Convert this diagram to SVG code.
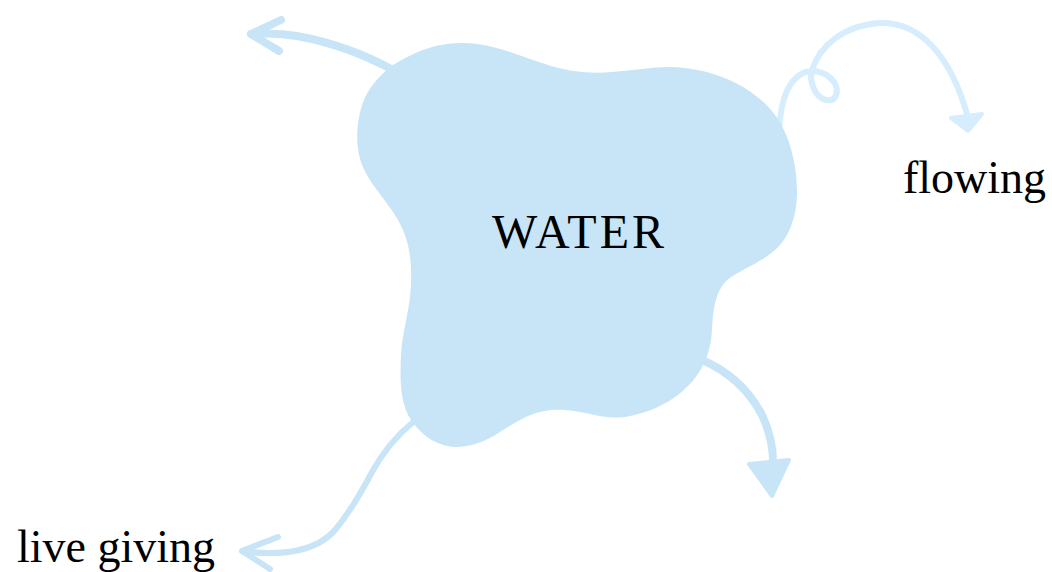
<svg xmlns="http://www.w3.org/2000/svg" width="1052" height="572" viewBox="0 0 1052 572">
<style>
.lbl{font-family:"Liberation Serif","Times New Roman",serif;fill:#000}
.arr{fill:none;stroke:#c8e5f7;stroke-linecap:round;stroke-linejoin:round}
.head{fill:#c8e5f7;stroke:#c8e5f7;stroke-linejoin:round;stroke-width:4}
</style>
<rect width="1052" height="572" fill="#fff"/>
<g id="connectors">
<path class="arr" stroke-width="8" d="M393,70 C360,52 330,42 297,36 C280,33 265,33 251,34"/>
<path class="arr" stroke-width="8" d="M281,20 L251,34 L279,51"/>
<path class="arr" stroke-width="6" style="stroke:#d5edfc" d="M779,132 C780,110 784,88 797,77 C808,67 825,70 834,82 C840,92 836,102 826,100 C814,97 809,80 812,70 C820,45 845,25 880,23 C920,22 950,55 967,114"/>
<path class="head" style="fill:#d5edfc;stroke:#d5edfc" d="M951,118 L982,114 L968,131 Z"/>
<path class="arr" stroke-width="8" d="M702,360 C730,372 750,392 762,415 C770,432 773,445 773,462"/>
<path class="head" d="M749,464 L789,460 L772,496 Z"/>
<path class="arr" stroke-width="6" d="M412,423 C395,437 383,452 372,472 C360,495 350,512 335,530 C318,550 285,557 242,551"/>
<path class="arr" stroke-width="6" d="M278,537 L242,551 L270,569"/>
</g>
<g id="water">
<path fill="#c8e5f7" d="M390,67 C420,48 440,43 465,43 C495,44 520,56 545,64 C570,72 590,74 612,72 C640,70 660,65 685,68 C720,72 755,88 775,115 C790,135 797,165 797,192 C797,215 790,237 775,250 C762,262 740,270 727,280 C715,292 713,310 712,330 C711,350 705,365 695,378 C682,395 660,410 630,416 C605,421 590,412 565,410 C535,408 520,420 500,432 C485,442 470,447 455,447 C435,446 418,433 408,415 C400,398 400,378 401,355 C402,332 410,310 411,285 C412,255 408,238 398,220 C388,202 370,185 362,165 C355,145 356,125 362,105 C367,90 377,78 390,67 Z"/>
<text class="lbl" x="492" y="248" font-size="48" letter-spacing="3">WATER</text>
</g>
<g id="flowing"><text class="lbl" x="903" y="193" font-size="46">flowing</text></g>
<g id="live-giving"><text class="lbl" x="17" y="562" font-size="46">live giving</text></g>
</svg>
